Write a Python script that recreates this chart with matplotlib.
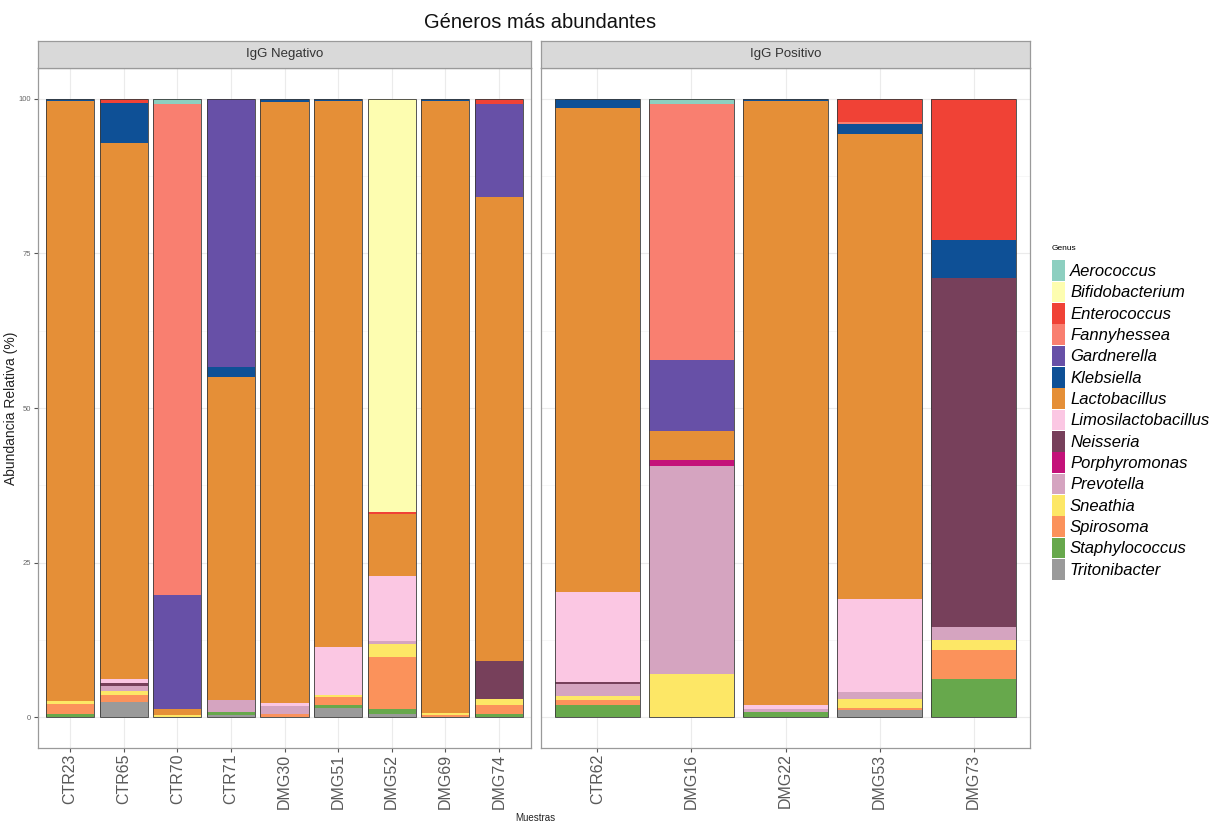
import numpy as np
import matplotlib
matplotlib.use('Agg')
import matplotlib.pyplot as plt
from matplotlib.patches import Patch

plt.rcParams['font.family'] = ['Liberation Sans', 'DejaVu Sans']

# Genus order as in the legend (top of stack first)
genera = ['Aerococcus', 'Bifidobacterium', 'Enterococcus', 'Fannyhessea',
          'Gardnerella', 'Klebsiella', 'Lactobacillus', 'Limosilactobacillus',
          'Neisseria', 'Porphyromonas', 'Prevotella', 'Sneathia', 'Spirosoma',
          'Staphylococcus', 'Tritonibacter']
colors = ['#8dcfc0', '#fdfdb0', '#f04236', '#f97f70', '#6750a7', '#0e5096',
          '#e58f37', '#fbc7e3', '#77405b', '#c4127a', '#d5a4c0', '#fde766',
          '#fb925b', '#67a84c', '#9a9a9a']

neg_samples = ['CTR23', 'CTR65', 'CTR70', 'CTR71', 'DMG30', 'DMG51', 'DMG52', 'DMG69', 'DMG74']
pos_samples = ['CTR62', 'DMG16', 'DMG22', 'DMG53', 'DMG73']

# Relative abundance (%), one row per genus, one column per sample
neg_abund = [
    [0.0, 0.0, 0.9, 0.0, 0.0, 0.0, 0.0, 0.0, 0.0],      # Aerococcus
    [0.0, 0.0, 0.0, 0.0, 0.0, 0.0, 66.9, 0.0, 0.0],     # Bifidobacterium
    [0.0, 0.6, 0.0, 0.0, 0.0, 0.0, 0.3, 0.0, 0.8],      # Enterococcus
    [0.0, 0.0, 79.4, 0.0, 0.0, 0.0, 0.0, 0.0, 0.0],     # Fannyhessea
    [0.0, 0.0, 18.4, 43.4, 0.0, 0.0, 0.0, 0.0, 15.1],   # Gardnerella
    [0.4, 6.5, 0.0, 1.6, 0.5, 0.4, 0.0, 0.3, 0.0],      # Klebsiella
    [97.0, 86.7, 0.9, 52.2, 97.3, 88.2, 10.0, 99.0, 75.1],  # Lactobacillus
    [0.0, 0.7, 0.0, 0.0, 0.4, 7.8, 10.5, 0.0, 0.0],     # Limosilactobacillus
    [0.0, 0.4, 0.0, 0.0, 0.0, 0.0, 0.0, 0.0, 6.0],      # Neisseria
    [0.0, 0.0, 0.0, 0.0, 0.0, 0.0, 0.0, 0.0, 0.0],      # Porphyromonas
    [0.0, 0.8, 0.0, 2.0, 1.3, 0.0, 0.4, 0.0, 0.0],      # Prevotella
    [0.5, 0.8, 0.4, 0.0, 0.0, 0.4, 2.2, 0.3, 1.0],      # Sneathia
    [1.6, 1.1, 0.0, 0.0, 0.5, 1.3, 8.4, 0.4, 1.5],      # Spirosoma
    [0.5, 0.0, 0.0, 0.5, 0.0, 0.5, 0.8, 0.0, 0.5],      # Staphylococcus
    [0.0, 2.4, 0.0, 0.3, 0.0, 1.4, 0.5, 0.0, 0.0],      # Tritonibacter
]
pos_abund = [
    [0.0, 0.8, 0.0, 0.0, 0.0],      # Aerococcus
    [0.0, 0.0, 0.0, 0.0, 0.0],      # Bifidobacterium
    [0.0, 0.0, 0.0, 3.8, 22.8],     # Enterococcus
    [0.0, 41.4, 0.0, 0.2, 0.0],     # Fannyhessea
    [0.0, 11.5, 0.0, 0.0, 0.0],     # Gardnerella
    [1.5, 0.0, 0.4, 1.6, 6.2],      # Klebsiella
    [78.3, 4.7, 97.7, 75.3, 0.0],   # Lactobacillus
    [14.5, 0.0, 0.6, 15.0, 0.0],    # Limosilactobacillus
    [0.3, 0.0, 0.0, 0.0, 56.4],     # Neisseria
    [0.0, 1.0, 0.0, 0.0, 0.0],      # Porphyromonas
    [2.05, 33.7, 0.5, 1.1, 2.2],    # Prevotella
    [0.65, 6.9, 0.0, 1.6, 1.5],     # Sneathia
    [0.8, 0.0, 0.0, 0.3, 4.7],      # Spirosoma
    [1.9, 0.0, 0.8, 0.0, 6.2],      # Staphylococcus
    [0.0, 0.0, 0.0, 1.1, 0.0],      # Tritonibacter
]

fig = plt.figure(figsize=(12.2, 8.24), dpi=100)
fig.patch.set_facecolor('white')

bottom_y = 1 - 748/824
height = (748 - 68)/824
strip_h = 27/824
panels = [
    (38, 531, neg_samples, neg_abund, 'IgG Negativo'),
    (541, 1030, pos_samples, pos_abund, 'IgG Positivo'),
]

axes = []
for i, (x0, x1, samples, abund, strip_txt) in enumerate(panels):
    ax = fig.add_axes([x0/1220, bottom_y, (x1 - x0)/1220, height])
    axes.append(ax)
    data = np.array(abund)
    x = np.arange(1, len(samples) + 1)
    base = np.zeros(len(samples))
    # stack from the bottom genus upwards
    for g in range(len(genera) - 1, -1, -1):
        ax.bar(x, data[g], bottom=base, width=0.9, color=colors[g],
               edgecolor='none', zorder=2)
        base = base + data[g]
    ax.bar(x, base, width=0.9, fill=False, edgecolor='#3a3a3a', lw=0.6, zorder=3)

    ax.set_xlim(0.4, len(samples) + 0.6)
    ax.set_ylim(-5, 105)
    ax.set_xticks(x)
    ax.set_xticklabels(samples, rotation=90, fontsize=11.5, color='#595959')
    ax.set_yticks([0, 25, 50, 75, 100])
    ax.set_yticks([12.5, 37.5, 62.5, 87.5], minor=True)
    ax.grid(True, which='major', color='#ebebeb', lw=0.8, zorder=0)
    ax.grid(True, which='minor', axis='y', color='#f4f4f4', lw=0.5, zorder=0)
    ax.tick_params(axis='x', length=3, color='#555555', pad=1)
    ax.tick_params(axis='y', which='minor', length=0)
    if i == 0:
        ax.tick_params(axis='y', length=3, color='#555555', labelsize=5.5,
                       labelcolor='#666666', pad=2)
    else:
        ax.tick_params(axis='y', length=0, labelleft=False)
    for s in ax.spines.values():
        s.set_color('#9a9a9a')
        s.set_linewidth(0.9)
    ax.set_axisbelow(True)

    # facet strip
    sax = fig.add_axes([x0/1220, bottom_y + height, (x1 - x0)/1220, strip_h])
    sax.set_facecolor('#d9d9d9')
    sax.set_xticks([])
    sax.set_yticks([])
    for s in sax.spines.values():
        s.set_color('#9a9a9a')
        s.set_linewidth(0.9)
    sax.text(0.5, 0.5, strip_txt, ha='center', va='center', fontsize=9.5,
             color='#333333', transform=sax.transAxes)

axes[0].set_ylabel('Abundancia Relativa (%)', fontsize=10, color='#222222',
                   labelpad=0.5)
fig.text(535/1220, 1 - 818/824, 'Muestras', ha='center', va='center',
         fontsize=7, color='#222222')
fig.text(540/1220, 1 - 23/824, 'Géneros más abundantes', ha='center',
         va='center', fontsize=14.5, color='#111111')

handles = [Patch(facecolor=c, edgecolor='none') for c in colors]
leg = fig.legend(handles, genera, loc='upper left',
                 bbox_to_anchor=(1040/1220, 1 - 233/824), frameon=False,
                 handlelength=0.8, handleheight=1.53,
                 labelspacing=0.04, handletextpad=0.3, borderpad=0.2,
                 title='Genus\n', title_fontsize=6, alignment='left',
                 prop={'style': 'italic', 'size': 12})

fig.savefig('out.png', dpi=100, facecolor='white')
